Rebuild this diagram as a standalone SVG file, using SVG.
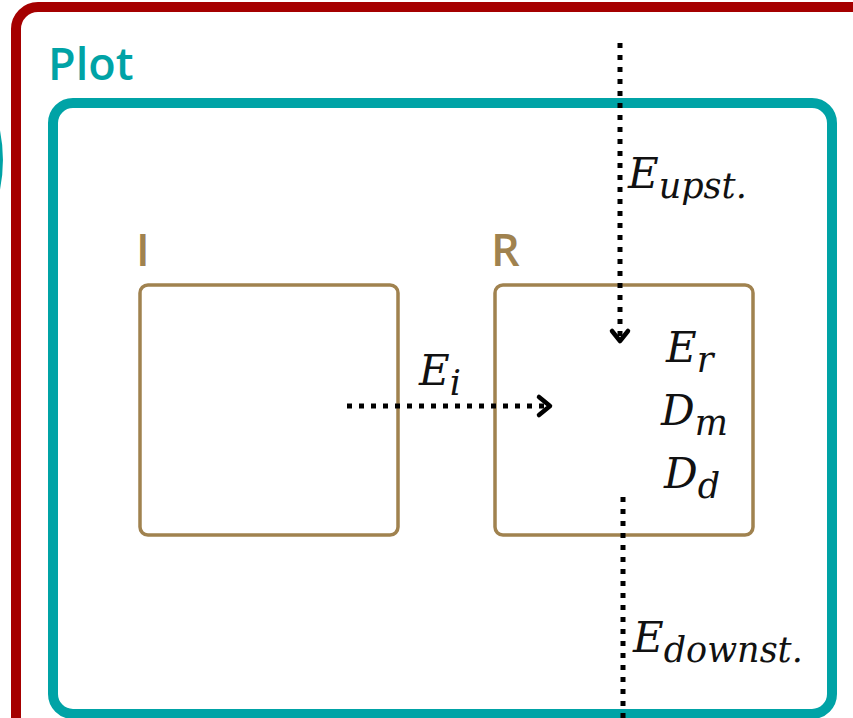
<svg xmlns="http://www.w3.org/2000/svg" width="853" height="718" viewBox="0 0 853 718">
<style>
.math{font-family:"DejaVu Serif","Liberation Serif",serif;font-style:italic;fill:#111;font-size:42px}
.sub{font-size:35px}
.lbl{font-family:"Open Sans",Lato,sans-serif;font-weight:600}
.box{fill:none;stroke:#a0824f;stroke-width:3.5}
.dot{fill:none;stroke:#000;stroke-width:5;stroke-dasharray:5 7}
.head{fill:none;stroke:#000;stroke-width:4.5;stroke-linecap:round;stroke-linejoin:round}
</style>
<rect width="853" height="718" fill="#fff"/>
<g id="outer">
<rect x="16" y="7" width="900" height="760" rx="22" fill="none" stroke="#a50000" stroke-width="10"/>
<path d="M-4,126 A150,150 0 0 1 -4,194" fill="none" stroke="#00a3a6" stroke-width="6"/>
</g>
<g id="plot">
<text class="lbl" x="48" y="80" font-size="45" fill="#00a3a6">Plot</text>
<rect x="53" y="103" width="779" height="611" rx="20" fill="none" stroke="#00a3a6" stroke-width="10"/>
</g>
<g id="nodeI">
<text class="lbl" x="136" y="266" font-size="45" fill="#a0824f">I</text>
<rect class="box" x="140" y="285" width="258" height="250" rx="8"/>
</g>
<g id="nodeR">
<text class="lbl" x="491" y="266" font-size="45" fill="#a0824f">R</text>
<rect class="box" x="495" y="285" width="258" height="250" rx="8"/>
<text class="math" x="666" y="362">E<tspan class="sub" dy="10">r</tspan></text>
<text class="math" x="661" y="425">D<tspan class="sub" dy="10">m</tspan></text>
<text class="math" x="664" y="488">D<tspan class="sub" dy="10">d</tspan></text>
</g>
<g id="connectors">
<line class="dot" x1="620" y1="43" x2="620" y2="336"/>
<polyline class="head" points="612,331 620,341 628,331"/>
<text class="math" x="628" y="188">E<tspan class="sub" dy="10">upst.</tspan></text>
<line class="dot" x1="347" y1="406" x2="544" y2="406"/>
<polyline class="head" points="539,397 550,406 539,415"/>
<text class="math" x="419" y="385">E<tspan class="sub" dy="10">i</tspan></text>
<line class="dot" x1="623" y1="497" x2="623" y2="718"/>
<text class="math" x="633" y="652">E<tspan class="sub" dy="10">downst.</tspan></text>
</g>
</svg>
